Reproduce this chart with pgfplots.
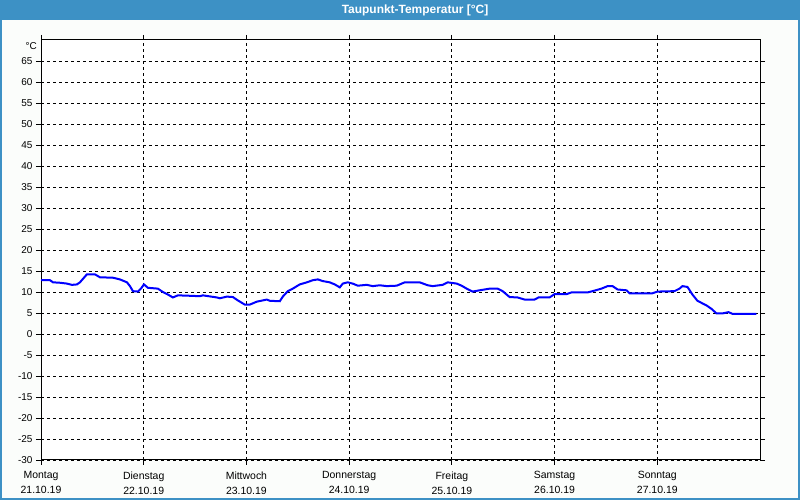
\documentclass[border=0pt]{standalone}
\usepackage{pgfplots}
\pgfplotsset{compat=1.18}
\usepackage{fontspec}
\setmainfont{Liberation Sans}
\definecolor{titleblue}{RGB}{61,145,197}
\definecolor{bgc}{RGB}{251,253,251}
\begin{document}
\begin{tikzpicture}[x=1bp,y=1bp]
\useasboundingbox (0,0) rectangle (800,500);
\fill[bgc] (0,0) rectangle (800,500);
\fill[titleblue] (0,480) rectangle (800,500);
\draw[titleblue, line width=2bp] (1,1) rectangle (799,499);
\node[text=white, font=\fontsize{12}{14}\selectfont\bfseries] at (415,490) {Taupunkt-Temperatur [°C]};
\begin{axis}[
  at={(41bp,40bp)}, anchor=south west,
  scale only axis, width=719bp, height=420bp,
  xmin=0, xmax=7, ymin=-30, ymax=70,
  clip=false,
  axis background/.style={fill=white},
  xtick={0,...,6}, ytick={-30,-25,...,65},
  xticklabels={{Montag\\21.10.19},{Dienstag\\22.10.19},{Mittwoch\\23.10.19},{Donnerstag\\24.10.19},{Freitag\\25.10.19},{Samstag\\26.10.19},{Sonntag\\27.10.19}},
  xticklabel style={align=center, font=\fontsize{10.5}{15}\selectfont, yshift=-3bp},
  yticklabel style={font=\fontsize{10}{12}\selectfont},
  /pgf/number format/assume math mode=true,
  grid=major, major grid style={black, dash pattern=on 3bp off 3bp, line width=0.8bp},
  axis line style={black, line width=1bp},
  tick align=outside,
  major tick length=5bp,
  major tick style={black, line width=0.8bp},
]
\addplot[blue, line width=2bp] coordinates {
(0,12.8) (0.088,12.8) (0.117,12.3) (0.185,12.2) (0.253,12.0) (0.302,11.7) (0.350,11.8) (0.379,12.3) (0.447,14.2) (0.525,14.2) (0.574,13.5) (0.700,13.4) (0.768,13.0) (0.837,12.3) (0.866,11.4) (0.895,10.2) (0.944,10.1) (0.973,10.8) (1.002,11.8) (1.041,11.0) (1.138,10.8) (1.187,10.0) (1.235,9.4) (1.284,8.7) (1.333,9.2) (1.449,9.1) (1.547,9.0) (1.576,9.2) (1.712,8.7) (1.741,8.5) (1.809,8.9) (1.868,8.8) (1.916,8.0) (1.984,7.0) (2.033,7.0) (2.101,7.7) (2.160,8.0) (2.198,8.2) (2.228,7.9) (2.325,7.8) (2.354,8.9) (2.403,10.2) (2.451,10.8) (2.519,11.8) (2.588,12.3) (2.646,12.8) (2.695,13.0) (2.743,12.6) (2.811,12.3) (2.860,11.8) (2.909,11.1) (2.938,12.0) (2.986,12.3) (3.035,12.0) (3.084,11.5) (3.171,11.7) (3.230,11.4) (3.298,11.6) (3.366,11.4) (3.463,11.5) (3.541,12.3) (3.687,12.3) (3.765,11.6) (3.813,11.4) (3.911,11.7) (3.959,12.3) (4.047,12.0) (4.095,11.5) (4.144,10.8) (4.202,10.1) (4.270,10.4) (4.368,10.8) (4.446,10.8) (4.494,10.2) (4.562,8.8) (4.640,8.7) (4.708,8.2) (4.805,8.2) (4.844,8.7) (4.951,8.7) (5.000,9.5) (5.117,9.5) (5.165,9.9) (5.321,9.9) (5.370,10.2) (5.457,10.8) (5.516,11.4) (5.564,11.4) (5.613,10.6) (5.700,10.4) (5.730,9.7) (5.856,9.7) (5.953,9.7) (6.002,10.1) (6.167,10.2) (6.216,10.8) (6.245,11.4) (6.294,11.2) (6.342,9.4) (6.391,7.9) (6.479,6.8) (6.527,6.0) (6.576,4.9) (6.634,4.9) (6.693,5.2) (6.732,4.8) (6.965,4.8)
};
\node[anchor=east, font=\fontsize{10}{12}\selectfont, inner sep=0pt] at ([xshift=-4bp, yshift=-6bp]rel axis cs:0,1) {°C};
\end{axis}
\end{tikzpicture}
\end{document}
